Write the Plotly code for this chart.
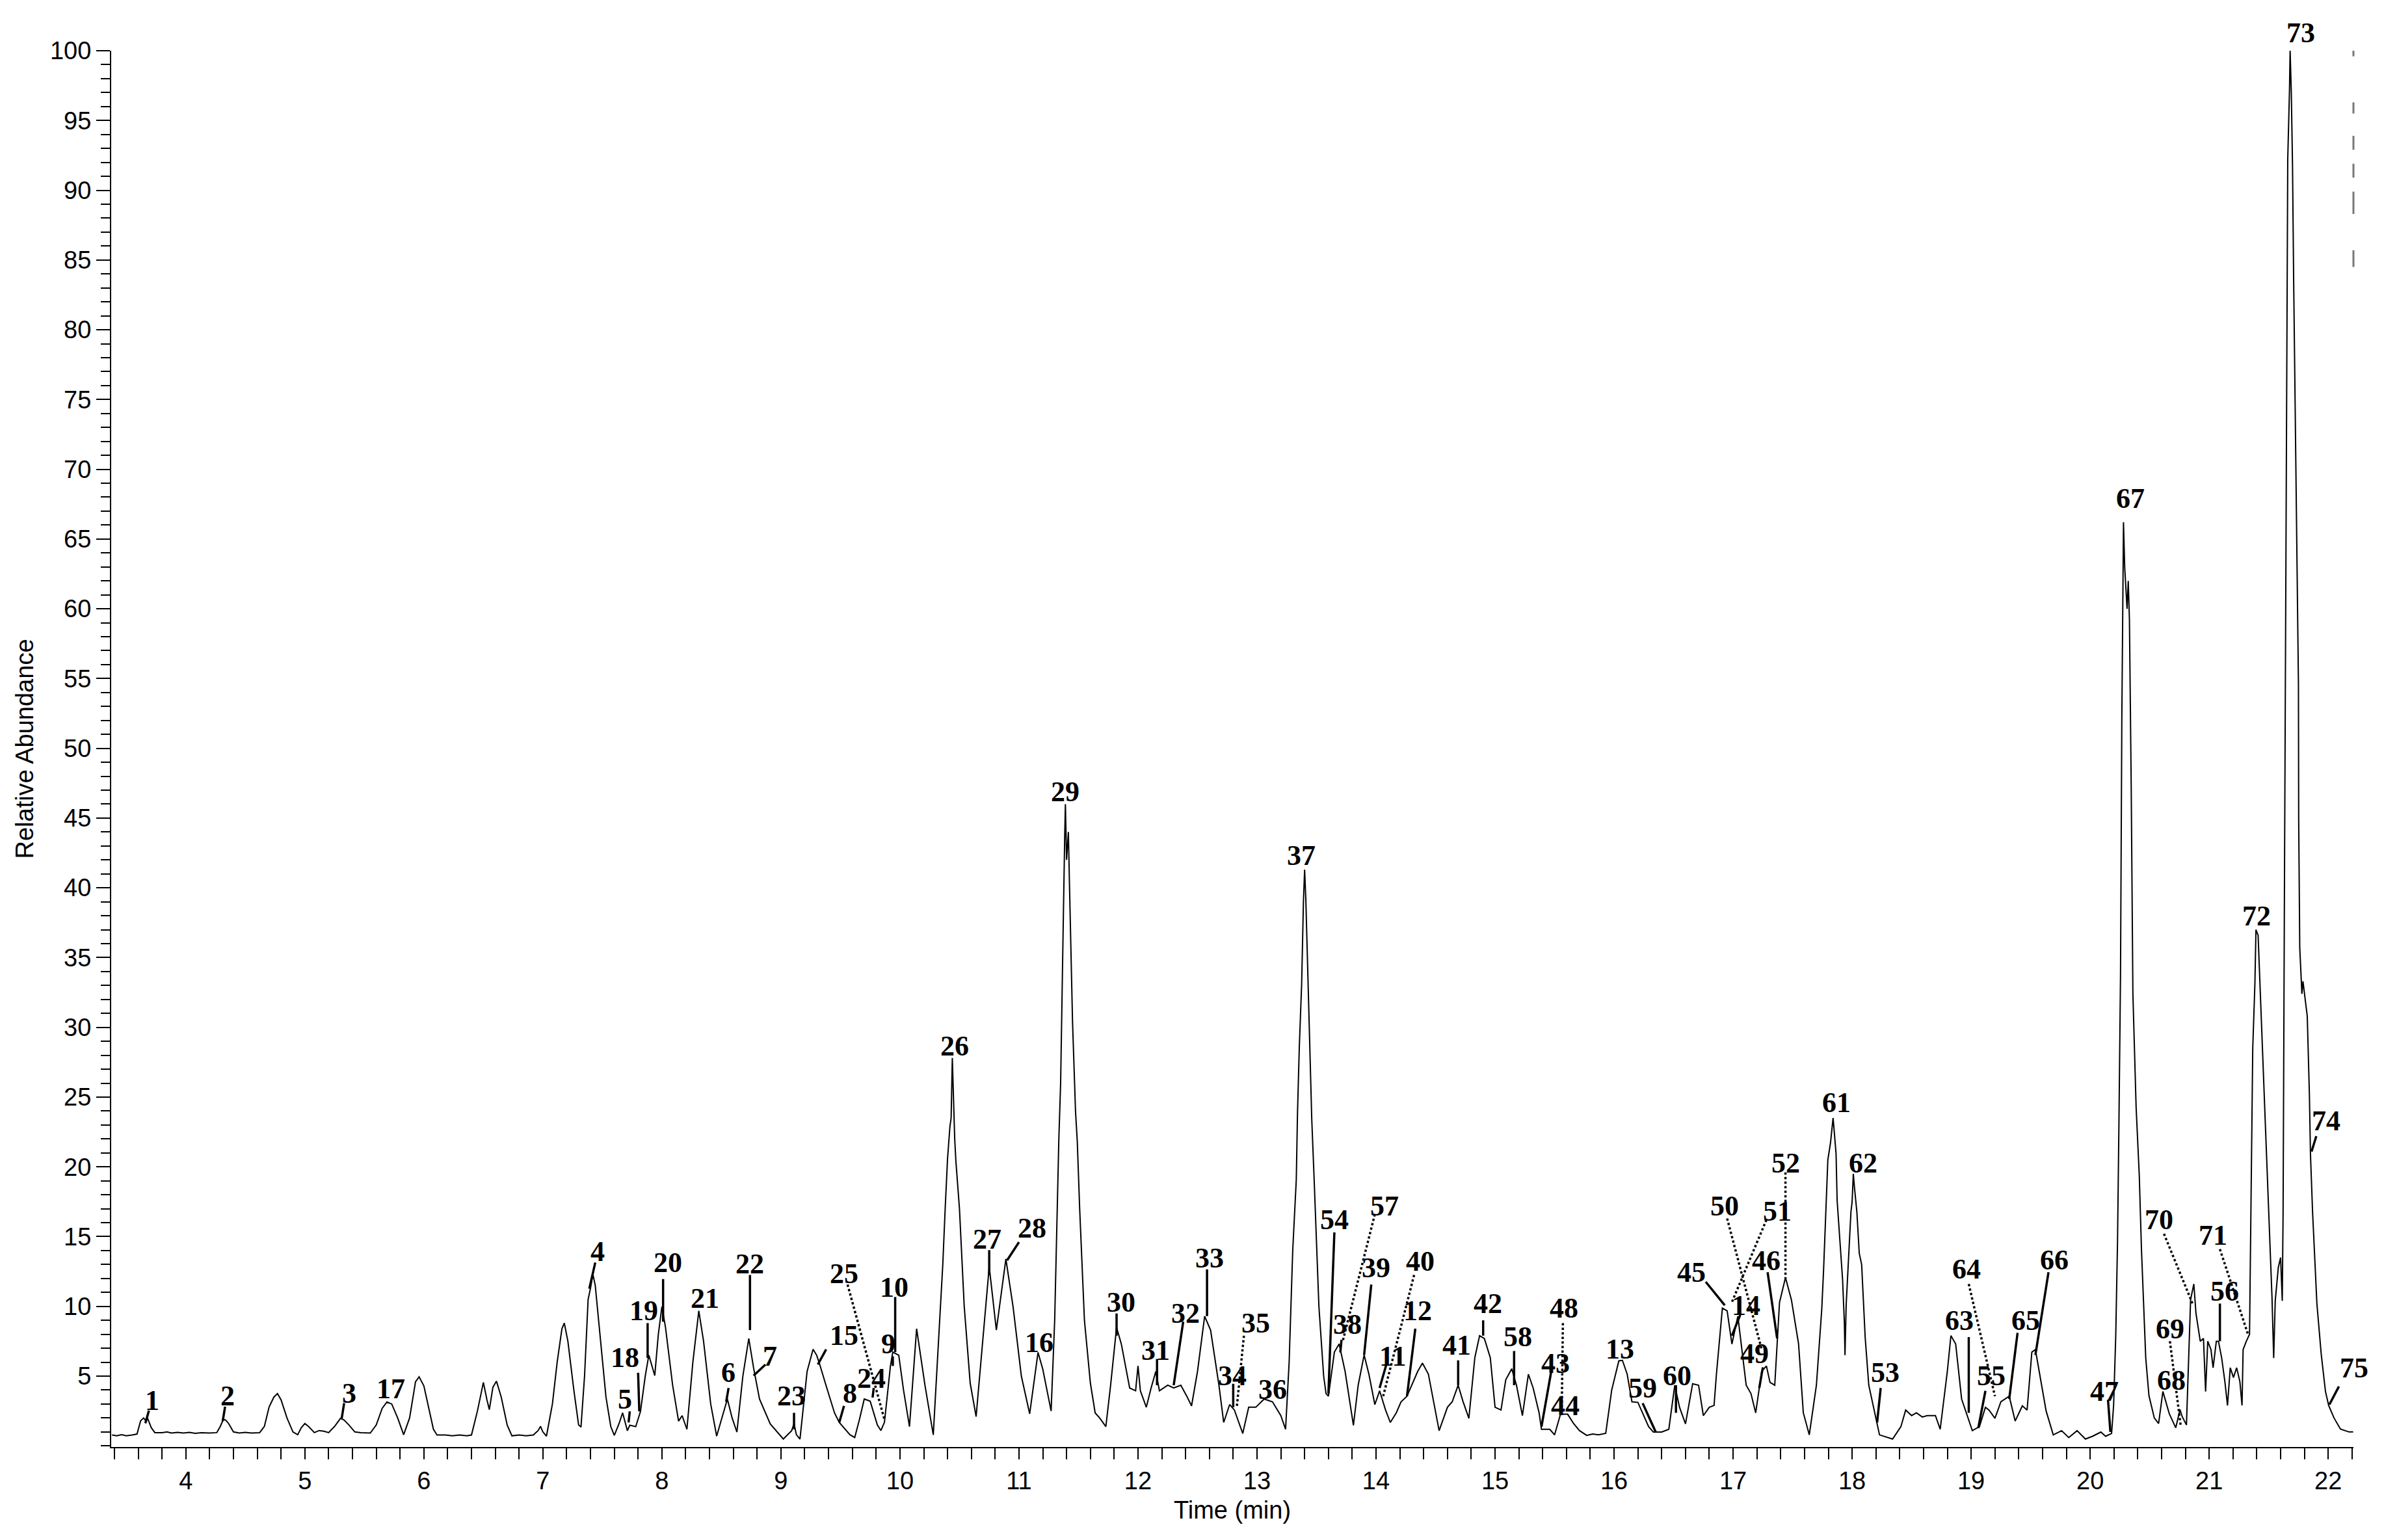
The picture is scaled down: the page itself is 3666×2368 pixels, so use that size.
import plotly.graph_objects as go

# ---------------- chromatogram trace ----------------
time_min = [
    3.38, 3.42, 3.46, 3.50, 3.55, 3.59, 3.62, 3.645, 3.66, 3.68, 3.71, 3.74,
    3.80, 3.84, 3.88, 3.93, 3.98, 4.03, 4.08, 4.13, 4.20, 4.26,
    4.29, 4.315, 4.335, 4.36, 4.40, 4.45, 4.50, 4.55, 4.62,
    4.66, 4.70, 4.74, 4.77, 4.80, 4.85, 4.90, 4.94,
    4.97, 5.00, 5.03, 5.08, 5.12, 5.16, 5.20,
    5.25, 5.30, 5.33, 5.37, 5.42, 5.47, 5.55,
    5.60, 5.65, 5.69, 5.73, 5.78, 5.83,
    5.88, 5.93, 5.96, 6.00, 6.04, 6.08, 6.11,
    6.18, 6.24, 6.30, 6.36, 6.40,
    6.45, 6.50, 6.53, 6.55, 6.58, 6.61, 6.65, 6.70, 6.74,
    6.80, 6.86, 6.92, 6.96, 6.98, 7.00, 7.03,
    7.08, 7.12, 7.16, 7.18, 7.21, 7.26, 7.30, 7.32,
    7.35, 7.38, 7.40, 7.42, 7.44, 7.48, 7.53, 7.57, 7.60,
    7.64, 7.67, 7.71, 7.73, 7.78, 7.82, 7.86, 7.89, 7.94, 7.97, 8.00, 8.03, 8.09, 8.14, 8.17, 8.21,
    8.26, 8.31, 8.35, 8.41, 8.46,
    8.51, 8.55, 8.59, 8.63,
    8.68, 8.73, 8.77, 8.82, 8.91, 9.02, 9.09, 9.11, 9.13, 9.16,
    9.22, 9.27, 9.30, 9.32, 9.38, 9.45, 9.49, 9.54, 9.58, 9.62,
    9.66, 9.70, 9.75, 9.81, 9.84, 9.87, 9.92, 9.94, 9.99, 10.03, 10.08, 10.14, 10.21, 10.28,
    10.32, 10.36, 10.38, 10.40, 10.42, 10.43, 10.44, 10.45, 10.46, 10.47, 10.50, 10.54, 10.59, 10.64,
    10.70, 10.75, 10.81, 10.89, 10.95, 11.02, 11.09, 11.16, 11.20, 11.27,
    11.30, 11.32, 11.335, 11.35, 11.36, 11.375, 11.385, 11.39, 11.40, 11.415, 11.425, 11.435, 11.45,
    11.475, 11.49, 11.51, 11.55, 11.60, 11.64, 11.68, 11.73,
    11.77, 11.82, 11.86, 11.93, 11.98, 12.00, 12.02, 12.07, 12.11, 12.15, 12.18, 12.25, 12.30, 12.36,
    12.41, 12.45, 12.50, 12.56, 12.61, 12.68, 12.72, 12.77, 12.81, 12.88, 12.93, 12.99, 13.06, 13.13,
    13.20, 13.24,
    13.27, 13.30, 13.33, 13.34, 13.355, 13.375, 13.39, 13.40, 13.41, 13.43, 13.46, 13.48, 13.52, 13.56, 13.58,
    13.60, 13.65, 13.69, 13.74, 13.81, 13.85, 13.90, 13.94, 13.99, 14.03, 14.08, 14.12, 14.17, 14.21,
    14.26, 14.30, 14.35, 14.39, 14.44, 14.53, 14.60, 14.64, 14.69, 14.73, 14.78, 14.83, 14.87, 14.91,
    14.96, 15.00, 15.05, 15.09, 15.14, 15.18, 15.23, 15.28, 15.32, 15.37, 15.39, 15.46, 15.50, 15.55,
    15.61, 15.66, 15.71, 15.77, 15.82, 15.87, 15.93,
    15.98, 16.04, 16.07, 16.11, 16.15, 16.20, 16.29, 16.33, 16.40, 16.46, 16.51, 16.55, 16.60, 16.66,
    16.71, 16.75, 16.80, 16.84, 16.86, 16.91, 16.95, 16.99, 17.04, 17.11, 17.15, 17.19, 17.24, 17.28,
    17.31, 17.35, 17.39, 17.44, 17.49, 17.55, 17.59, 17.64,
    17.70, 17.745, 17.76, 17.78, 17.796, 17.818, 17.84, 17.85, 17.865, 17.874, 17.90, 17.92, 17.935,
    17.94, 17.95, 17.97, 17.98, 17.99, 18.00, 18.01, 18.02, 18.04, 18.06, 18.08, 18.11, 18.14, 18.19, 18.23,
    18.34, 18.41, 18.45, 18.50, 18.54, 18.59, 18.63, 18.70, 18.74, 18.80, 18.83, 18.87, 18.92, 18.96,
    19.01, 19.07, 19.12, 19.15, 19.20, 19.25, 19.32, 19.37, 19.43, 19.47, 19.51, 19.54, 19.58, 19.63,
    19.69, 19.76, 19.82, 19.89, 19.96, 20.02, 20.09, 20.13, 20.18,
    20.197, 20.215, 20.23, 20.242, 20.255, 20.266, 20.275, 20.28, 20.29, 20.30, 20.31, 20.32, 20.33,
    20.345, 20.359, 20.386, 20.413, 20.431, 20.467, 20.494, 20.539, 20.575, 20.611, 20.665, 20.719,
    20.755, 20.773, 20.809, 20.826, 20.844, 20.871, 20.889, 20.925, 20.952, 20.97, 20.988, 21.015,
    21.033, 21.06, 21.078, 21.105, 21.132, 21.154, 21.177, 21.204, 21.231, 21.258, 21.276, 21.285,
    21.312, 21.339, 21.348, 21.366, 21.384, 21.393, 21.411, 21.429, 21.456, 21.483, 21.501, 21.528,
    21.542, 21.555, 21.581, 21.60, 21.614, 21.621, 21.632, 21.639, 21.645, 21.66, 21.675, 21.68, 21.69,
    21.70, 21.71, 21.73, 21.75, 21.752, 21.761, 21.779, 21.788, 21.824, 21.842, 21.851, 21.869, 21.905,
    21.941, 21.977, 22.004, 22.049, 22.103, 22.175, 22.21,
]

rel_abundance = [
    0.78, 0.72, 0.80, 0.72, 0.78, 0.85, 1.8, 2.0, 1.85, 1.95, 1.3, 0.95,
    0.95, 1.0, 0.92, 0.97, 0.92, 0.97, 0.90, 0.95, 0.92, 0.95,
    1.4, 1.9, 1.85, 1.6, 1.0, 0.92, 0.97, 0.92, 0.95,
    1.4, 2.8, 3.5, 3.75, 3.3, 2.0, 1.0, 0.8,
    1.3, 1.6, 1.4, 0.95, 1.1, 1.05, 0.95,
    1.4, 1.98, 1.85, 1.5, 1.0, 0.95, 0.92,
    1.5, 2.7, 3.15, 3.0, 2.0, 0.8,
    2.0, 4.6, 4.95, 4.3, 2.8, 1.2, 0.78,
    0.78, 0.72, 0.78, 0.72, 0.78,
    2.5, 4.55, 3.3, 2.6, 4.2, 4.64, 3.5, 1.5, 0.72,
    0.78, 0.72, 0.78, 1.1, 1.4, 1.0, 0.7,
    3.0, 6.0, 8.4, 8.8, 7.5, 4.0, 1.5, 1.35,
    5.0, 10.5, 11.3, 12.3, 11.5, 8.0, 3.5, 1.4, 0.75,
    1.6, 2.37, 1.09, 1.48, 1.38, 2.47, 5.0, 6.5, 5.04, 8.0, 9.98, 8.5, 4.35, 1.78, 2.17, 1.19,
    6.0, 9.68, 7.5, 3.0, 0.7,
    2.2, 3.36, 2.0, 0.99,
    5.0, 7.7, 5.6, 3.36, 1.58, 0.49, 1.09, 1.6, 0.8, 0.49,
    5.34, 6.92, 6.5, 6.0, 4.3, 2.37, 1.68, 1.2, 0.8, 0.6,
    1.9, 3.36, 3.2, 1.5, 1.1, 1.7, 5.73, 6.72, 6.5, 4.0, 1.38, 8.4, 4.35, 0.79,
    7.0, 13.0, 17.0, 20.6, 22.9, 23.5, 27.8, 24.6, 22.0, 20.4, 17.0, 10.0, 4.5, 2.1,
    8.0, 12.85, 8.3, 13.4, 10.0, 5.0, 2.3, 6.7, 5.5, 2.5,
    9.0, 17.0, 22.0, 26.0, 32.0, 39.0, 44.0, 46.0, 42.0, 44.0, 40.0, 36.0, 30.4,
    24.0, 21.8, 17.0, 9.0, 4.5, 2.37, 1.98, 1.38,
    4.35, 8.5, 7.3, 4.15, 3.95, 5.73, 3.95, 2.77, 4.15, 5.34, 3.95, 4.35, 4.15, 4.35,
    3.56, 2.87, 5.34, 9.29, 8.3, 4.35, 1.68, 2.96, 2.57, 0.89, 2.77, 2.77, 3.36, 3.16,
    2.17, 1.19,
    6.0, 14.0, 19.1, 23.8, 28.5, 33.1, 39.0, 41.3, 39.2, 32.8, 23.4, 19.1, 10.0, 5.0, 3.75,
    3.56, 6.72, 7.31, 5.34, 1.48, 4.35, 6.52, 5.14, 2.96, 3.95, 2.57, 1.68, 2.37, 3.16,
    3.56, 4.35, 5.34, 5.93, 5.14, 1.09, 2.77, 3.16, 4.35, 3.2, 1.98, 6.32, 7.9, 7.7,
    6.32, 2.77, 2.57, 4.74, 5.53, 4.35, 2.17, 5.14, 4.15, 2.37, 1.19, 1.19, 0.79, 2.27,
    2.27, 1.6, 1.09, 0.75, 0.85, 0.8, 0.9,
    4.0, 6.1, 6.13, 5.14, 3.16, 3.12, 1.38, 0.99, 0.99, 1.19, 4.35, 2.77, 1.58, 4.45,
    4.35, 2.17, 2.77, 2.9, 5.14, 9.88, 9.68, 7.3, 9.29, 4.35, 3.75, 2.37, 5.34, 5.73,
    4.55, 4.35, 10.28, 12.06, 10.47, 7.31, 2.37, 0.79,
    4.35, 9.8, 12.56, 16.76, 20.5, 21.7, 23.5, 22.5, 20.96, 17.6, 14.2, 11.9, 8.8,
    6.5, 10.1, 13.2, 15.1, 16.76, 17.5, 19.5, 18.5, 16.76, 13.8, 13.0, 7.74, 4.35, 2.37, 0.79,
    0.49, 1.38, 2.57, 2.17, 2.37, 2.07, 2.17, 2.17, 1.19, 5.34, 7.9, 7.31, 3.36, 2.37,
    1.09, 1.38, 2.77, 2.57, 1.98, 3.16, 3.56, 1.78, 2.87, 2.57, 6.72, 6.9, 5.0, 2.5,
    0.79, 1.09, 0.6, 1.09, 0.49, 0.69, 0.99, 0.69, 0.89,
    2.9, 7.9, 14.7, 23.3, 33.7, 52.0, 62.0, 66.2, 63.0, 61.5, 60.0, 62.0, 59.2,
    47.2, 32.4, 24.3, 19.3, 14.1, 6.3, 3.6, 2.0, 1.6, 3.9, 2.3, 1.3,
    2.6, 2.1, 1.5, 6.3, 10.5, 11.6, 9.5, 7.5, 7.7, 3.9, 7.5, 6.9,
    5.6, 7.5, 7.5, 6.3, 4.6, 2.9, 5.6, 4.9, 5.6, 4.6, 2.9, 6.9,
    7.5, 8.0, 16.0, 28.5, 33.1, 37.0, 36.6, 32.7, 26.9, 20.9, 16.7, 10.6,
    6.3, 10.4, 12.8, 13.5, 10.4, 16.7, 39.3, 52.0, 68.5, 92.2, 97.3, 100.0, 97.0,
    91.9, 83.4, 68.2, 54.6, 44.9, 35.7, 32.4, 33.3, 30.8, 25.2, 20.9, 16.7, 10.2,
    6.6, 3.9, 2.9, 2.0, 1.2, 1.0, 1.0,
]

# ---------------- peak labels (time, abundance of the label) ----------------
peak_label = ["1", "2", "3", "17", "4", "5", "18", "19", "20", "21", "6", "22", "7", "23",
              "15", "25", "8", "24", "9", "10", "26", "27", "28", "16", "29", "30", "31",
              "32", "33", "34", "35", "36", "37", "54", "57", "38", "39", "40", "12", "11",
              "41", "42", "58", "48", "43", "44", "13", "59", "60", "45", "14", "50", "51",
              "52", "46", "49", "61", "62", "53", "63", "64", "55", "65", "66", "47", "67",
              "70", "69", "68", "71", "56", "72", "73", "74", "75"]
label_time = [3.715, 4.35, 5.37, 5.72, 7.46, 7.69, 7.69, 7.85, 8.05, 8.36, 8.56, 8.74, 8.91, 9.09,
              9.53, 9.53, 9.58, 9.76, 9.90, 9.95, 10.46, 10.73, 11.11, 11.17, 11.39, 11.86, 12.15,
              12.40, 12.60, 12.79, 12.99, 13.13, 13.37, 13.65, 14.07, 13.76, 14.00, 14.37, 14.35, 14.14,
              14.68, 14.94, 15.19, 15.58, 15.51, 15.59, 16.05, 16.24, 16.53, 16.65, 17.11, 16.93, 17.37,
              17.44, 17.28, 17.18, 17.87, 18.09, 18.28, 18.90, 18.96, 19.17, 19.46, 19.70, 20.12, 20.34,
              20.58, 20.67, 20.68, 21.03, 21.13, 21.40, 21.77, 21.98, 22.22]
label_abund = [3.26, 3.56, 3.75, 4.09, 13.93, 3.36, 6.32, 9.68, 13.14, 10.57, 5.24, 13.04, 6.42, 3.56,
               7.9, 12.35, 3.75, 4.84, 7.3, 11.36, 28.66, 14.82, 15.61, 7.41, 46.9, 10.28, 6.82,
               9.49, 13.44, 5.04, 8.8, 4.05, 42.3, 16.2, 17.2, 8.7, 12.75, 13.24, 9.68, 6.42,
               7.2, 10.18, 7.8, 9.88, 5.93, 2.87, 6.95, 4.15, 5.04, 12.45, 10.08, 17.2, 16.8,
               20.26, 13.28, 6.62, 24.6, 20.26, 5.24, 9.0, 12.65, 5.04, 9.0, 13.34, 3.9, 67.9,
               16.2, 8.4, 4.7, 15.1, 11.1, 38.0, 101.3, 23.3, 5.6]

# ---------------- leader lines: label -> point on the trace ----------------
leader_label = ["1", "2", "3", "4", "5", "18", "19", "20", "6", "22", "7", "23", "15", "25", "8",
                "24", "9", "10", "27", "28", "30", "31", "32", "33", "34", "35", "54", "57", "38",
                "39", "40", "12", "11", "41", "42", "58", "48", "43", "59", "60", "45", "14", "50",
                "51", "52", "46", "49", "53", "63", "64", "55", "65", "66", "47", "70", "69", "71",
                "56", "74", "75"]
leader_t0 = [3.69, 4.33, 5.33, 7.44, 7.73, 7.80, 7.88, 8.01, 8.56, 8.74, 8.87, 9.11, 9.38, 9.56, 9.53,
             9.78, 9.94, 9.96, 10.75, 11.00, 11.82, 12.16, 12.38, 12.58, 12.80, 12.89, 13.65, 13.99, 13.71,
             13.96, 14.32, 14.33, 14.09, 14.69, 14.90, 15.16, 15.57, 15.48, 16.24, 16.52, 16.77, 17.06, 16.95,
             17.28, 17.44, 17.29, 17.25, 18.24, 18.98, 18.98, 19.12, 19.39, 19.65, 20.15, 20.62, 20.67, 21.09,
             21.09, 21.90, 22.09]
leader_v0 = [2.53, 2.81, 3.06, 13.14, 2.47, 5.24, 8.8, 11.96, 4.15, 12.25, 5.83, 2.37, 6.92, 11.56, 2.87,
             4.15, 6.42, 10.67, 14.03, 14.6, 9.49, 6.23, 8.9, 12.65, 4.45, 7.9, 15.3, 16.6, 7.6,
             11.56, 12.25, 8.4, 5.93, 6.13, 9.0, 6.8, 8.8, 5.73, 3.06, 4.35, 11.76, 9.39, 16.3,
             16.2, 19.6, 12.45, 5.63, 4.15, 7.8, 11.6, 3.95, 8.1, 12.45, 3.3, 15.2, 7.5, 14.1,
             10.2, 22.2, 4.26]
leader_t1 = [3.66, 4.31, 5.31, 7.39, 7.72, 7.81, 7.88, 8.01, 8.54, 8.74, 8.77, 9.11, 9.31, 9.87, 9.49,
             9.77, 9.94, 9.96, 10.75, 10.90, 11.82, 12.16, 12.30, 12.58, 12.80, 12.83, 13.60, 13.72, 13.70,
             13.90, 14.06, 14.26, 14.03, 14.69, 14.90, 15.16, 15.56, 15.39, 16.35, 16.52, 16.93, 16.99, 17.24,
             16.99, 17.44, 17.37, 17.22, 18.21, 18.98, 19.20, 19.06, 19.32, 19.54, 20.17, 20.86, 20.76, 21.33,
             21.09, 21.86, 22.01]
leader_v1 = [1.62, 1.78, 1.98, 11.26, 1.68, 2.47, 6.3, 8.9, 3.16, 8.3, 5.04, 1.19, 5.83, 1.88, 1.68,
             3.46, 5.73, 6.72, 12.25, 13.3, 7.9, 4.35, 4.35, 9.3, 2.77, 2.77, 3.75, 7.5, 6.7,
             6.52, 3.56, 3.56, 4.15, 4.35, 7.9, 4.35, 2.37, 1.38, 0.99, 2.37, 10.08, 7.9, 6.92,
             10.3, 12.0, 7.7, 4.15, 1.68, 2.37, 3.56, 1.28, 3.36, 6.52, 1.0, 10.2, 1.5, 7.9,
             7.5, 21.1, 2.96]
dotted_leaders = {"25", "35", "57", "40", "48", "50", "51", "52", "64", "69", "70", "71"}

# faint scanner artefact at the right edge (abundance ranges of the dashes)
artefact_from = [99.6, 95.5, 92.9, 90.9, 88.3, 84.5]
artefact_to = [100.0, 96.3, 93.9, 91.9, 89.9, 85.7]

X_RANGE = [3.373, 22.212]
Y_RANGE = [-0.08, 100.0]

# ---------------- figure ----------------
fig = go.Figure()
fig.add_trace(go.Scatter(x=time_min, y=rel_abundance, mode="lines",
                         line=dict(color="black", width=2), hoverinfo="skip",
                         showlegend=False))

for dotted in (False, True):
    xs, ys = [], []
    for i, lab in enumerate(leader_label):
        if (lab in dotted_leaders) != dotted:
            continue
        xs += [leader_t0[i], leader_t1[i], None]
        ys += [leader_v0[i], leader_v1[i], None]
    fig.add_trace(go.Scatter(x=xs, y=ys, mode="lines",
                             line=dict(color="black", width=3.5,
                                       dash="dot" if dotted else "solid"),
                             hoverinfo="skip", showlegend=False))

# labels are placed with axis-domain references so that labels just outside
# the axis ranges (e.g. peak 73 above 100 %) are still drawn
for lab, t, v in zip(peak_label, label_time, label_abund):
    fx = (t - X_RANGE[0]) / (X_RANGE[1] - X_RANGE[0])
    fy = (v - Y_RANGE[0]) / (Y_RANGE[1] - Y_RANGE[0])
    fig.add_annotation(x=fx, y=fy, xref="x domain", yref="y domain", text=lab,
                       showarrow=False, xanchor="center", yanchor="middle",
                       font=dict(family="Liberation Serif, Times New Roman, serif",
                                 size=44, color="black", weight="bold"))

for a, b in zip(artefact_from, artefact_to):
    fig.add_shape(type="line", xref="paper", yref="y", x0=1.0, x1=1.0, y0=a, y1=b,
                  line=dict(color="#777777", width=3))

axis_font = dict(family="Liberation Sans, Arial, sans-serif", size=38, color="black")
fig.update_layout(
    width=3666, height=2368,
    margin=dict(l=163, r=55, t=70, b=151),
    paper_bgcolor="white", plot_bgcolor="white",
    font=axis_font,
    showlegend=False,
    xaxis=dict(range=X_RANGE, showline=True, linecolor="black", linewidth=2,
               mirror=False, showgrid=False, zeroline=False,
               tick0=0, dtick=1, ticks="outside", ticklen=17, tickwidth=2, tickcolor="black",
               minor=dict(dtick=0.2, tick0=0, ticks="outside", ticklen=17, tickwidth=2,
                          tickcolor="black", showgrid=False),
               tickfont=axis_font,
               title=dict(text="Time (min)", font=axis_font, standoff=12)),
    yaxis=dict(range=Y_RANGE, showline=True, linecolor="black", linewidth=2,
               showgrid=False, zeroline=False,
               tickvals=list(range(5, 101, 5)), ticks="outside", ticklen=21, tickwidth=2,
               tickcolor="black",
               minor=dict(dtick=1, tick0=0, ticks="outside", ticklen=14, tickwidth=2,
                          tickcolor="black", showgrid=False),
               tickfont=axis_font,
               title=dict(text="Relative Abundance", font=axis_font, standoff=14)),
)

fig.write_html("out.html")
